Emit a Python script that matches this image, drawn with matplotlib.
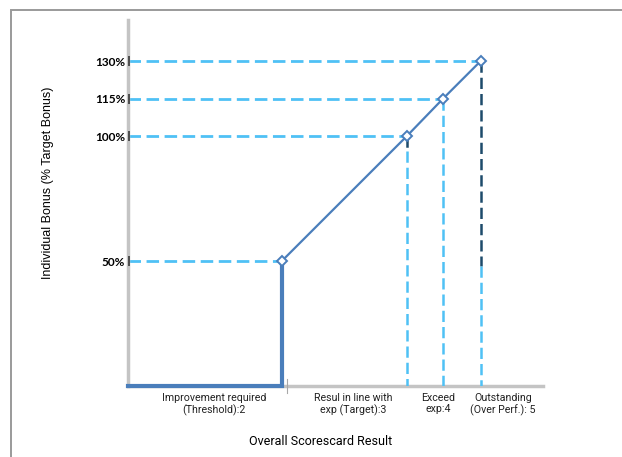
import matplotlib

matplotlib.use("Agg")
import matplotlib.pyplot as plt
from matplotlib.patches import Rectangle

# scorecard levels and bonus payout (% of target bonus)
levels = ["Threshold", "Target", "Exceed", "Outstanding"]
score_x = [2.0, 3.0, 3.29, 3.59]
bonus = [50, 100, 115, 130]

x_start = 0.77
x_end = 4.09

# where the dark part of each drop line stops (rest is light blue)
dark_to = [45, 94, 115, 48]

cat_labels = [
    "Improvement required\n(Threshold):2",
    "Resul in line with\nexp (Target):3",
    "Exceed\nexp:4",
    "Outstanding\n(Over Perf.): 5",
]
cat_pos = [1.46, 2.57, 3.25, 3.77]

LINE_BLUE = "#4A7EBB"
LIGHT_BLUE = "#4FC1F5"
NAVY = "#1D4B6B"
AXIS_GREY = "#C4C4C4"

fig = plt.figure(figsize=(6.22, 4.57), dpi=100)
ax = fig.add_axes([128 / 622, 1 - 386 / 457, (543 - 128) / 622, (386 - 20) / 457])

# outer frame
fig.add_artist(Rectangle((11 / 622, -0.1), 1.2, 1.1 - 10 / 457, transform=fig.transFigure,
                         fill=False, edgecolor="#9A9A9A", linewidth=1.4))

# horizontal guides
for x, y in zip(score_x, bonus):
    ax.plot([x_start, x], [y, y], color=LIGHT_BLUE, lw=2.0, dashes=(4.5, 2), zorder=2)

# vertical drop lines
for x, y, d in zip(score_x, bonus, dark_to):
    if x == score_x[0]:
        ax.plot([x, x], [y, d], color="#222222", lw=2.0, zorder=4)
        continue
    if d < y:
        ax.plot([x, x], [y, d], color=NAVY, lw=1.8, dashes=(4.5, 2), zorder=3)
    ax.plot([x, x], [min(d, y), 0], color=LIGHT_BLUE, lw=1.8, dashes=(4.5, 2), zorder=3)

# payout curve
ax.plot([x_start, score_x[0], score_x[0]], [0, 0, bonus[0]], color=LINE_BLUE, lw=3,
        solid_joinstyle="miter", clip_on=False, zorder=5)
ax.plot(score_x, bonus, color=LINE_BLUE, lw=1.6, marker="D", markersize=5,
        markerfacecolor="white", markeredgecolor=LINE_BLUE, markeredgewidth=1.4, zorder=6)

# small tick on x axis after threshold
ax.plot([2.04, 2.04], [-3, 3], color="#A8A8A8", lw=0.8, clip_on=False, zorder=4)

ax.set_xlim(x_start, x_end)
ax.set_ylim(0, 146.5)

for side in ("top", "right"):
    ax.spines[side].set_visible(False)
for side in ("left", "bottom"):
    ax.spines[side].set_color(AXIS_GREY)
    ax.spines[side].set_linewidth(2.5)

ax.set_yticks(bonus)
ax.set_yticklabels([f"{b}%" for b in bonus], fontsize=8.5, fontweight="bold", family="Lato")
ax.tick_params(axis="y", length=0, pad=2)
ax.plot([x_start + 0.005] * len(bonus), bonus, ls="none", marker="|", markersize=7,
        color="#444444", markeredgewidth=1.3, clip_on=False, zorder=7)

ax.set_xticks(cat_pos)
ax.set_xticklabels(cat_labels, fontsize=7.7, family="Roboto", color="#222222", linespacing=1.15)
ax.tick_params(axis="x", length=0, pad=5)

ax.set_xlabel("Overall Scorescard Result", fontsize=9, family="Roboto")
ax.set_ylabel("Individual Bonus (% Target Bonus)", fontsize=9, family="Liberation Sans")
ax.xaxis.set_label_coords(0.463, -0.133)
ax.yaxis.set_label_coords(-0.178, 0.555)

fig.savefig("out.png", dpi=100)
